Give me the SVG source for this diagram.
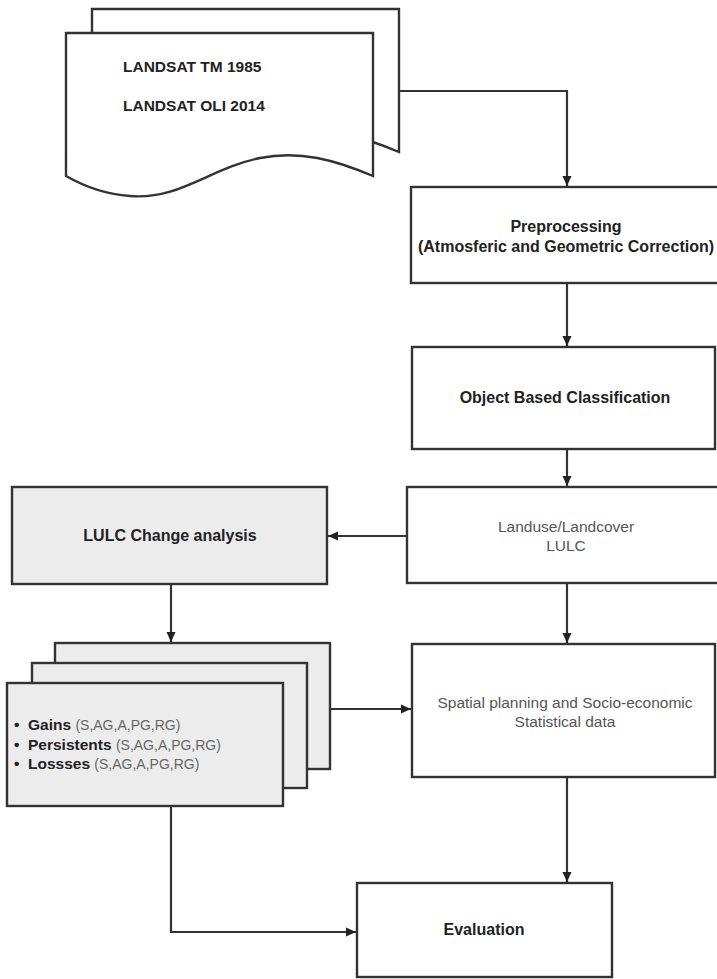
<svg xmlns="http://www.w3.org/2000/svg" width="717" height="979" viewBox="0 0 717 979">
<style>
.box{fill:#ffffff;stroke:#333333;stroke-width:2.4}
.gbox{fill:#ececec;stroke:#333333;stroke-width:2.4}
.con{fill:none;stroke:#333333;stroke-width:2.2}
.b{font-family:"Liberation Sans",Arial,sans-serif;font-weight:bold;font-size:16px;fill:#222222;text-anchor:middle}
.n{font-family:"Liberation Sans",Arial,sans-serif;font-size:15.5px;fill:#555555;text-anchor:middle}
.bl{font-family:"Liberation Sans",Arial,sans-serif;font-weight:bold;font-size:15.5px;fill:#222222}
.p{font-weight:normal;font-size:14px;fill:#666666}
</style>
<defs>
<marker id="ah" markerWidth="11" markerHeight="11" refX="10" refY="5.5" orient="auto" markerUnits="userSpaceOnUse">
<path d="M0,1 L10,5.5 L0,10 Z" fill="#222222"/>
</marker>
</defs>
<g id="connectors">
<path class="con" d="M399,91 H567 V186" marker-end="url(#ah)"/>
<path class="con" d="M567,283 V346" marker-end="url(#ah)"/>
<path class="con" d="M567,449 V486" marker-end="url(#ah)"/>
<path class="con" d="M407,536 H328" marker-end="url(#ah)"/>
<path class="con" d="M171,584 V642" marker-end="url(#ah)"/>
<path class="con" d="M567,583 V643" marker-end="url(#ah)"/>
<path class="con" d="M330,709 H411" marker-end="url(#ah)"/>
<path class="con" d="M567,777 V882" marker-end="url(#ah)"/>
<path class="con" d="M171,806 V932 H356" marker-end="url(#ah)"/>
</g>
<g id="landsat">
<path class="box" d="M92,9 H399 V152 C361,136 326,126 286,134 C236,144 206,176 156,172 C126,170 106,160 92,152 Z"/>
<path class="box" d="M66,33 H373 V176 C335,160 300,150 260,158 C210,168 180,200 130,196 C100,194 80,184 66,176 Z"/>
<text class="bl" x="123" y="72">LANDSAT TM 1985</text>
<text class="bl" x="123" y="111">LANDSAT OLI 2014</text>
</g>
<g id="preprocessing">
<rect class="box" x="411" y="187" width="312" height="96"/>
<text class="b" x="566" y="232">Preprocessing</text>
<text class="b" x="566" y="252">(Atmosferic and Geometric Correction)</text>
</g>
<g id="classification">
<rect class="box" x="412" y="347" width="303" height="102"/>
<text class="b" x="565" y="403">Object Based Classification</text>
</g>
<g id="lulc">
<rect class="box" x="407" y="487" width="316" height="96"/>
<text class="n" x="566" y="532">Landuse/Landcover</text>
<text class="n" x="566" y="551">LULC</text>
</g>
<g id="change">
<rect class="gbox" x="12" y="487" width="315" height="97"/>
<text class="b" x="170" y="541">LULC Change analysis</text>
</g>
<g id="results">
<rect class="gbox" x="55" y="643" width="275" height="126"/>
<rect class="gbox" x="32" y="663" width="275" height="125"/>
<rect class="gbox" x="7" y="683" width="276" height="123"/>
<text class="bl" x="14" y="730">• <tspan x="28">Gains</tspan> <tspan class="p">(S,AG,A,PG,RG)</tspan></text>
<text class="bl" x="14" y="750">• <tspan x="28">Persistents</tspan> <tspan class="p">(S,AG,A,PG,RG)</tspan></text>
<text class="bl" x="14" y="769">• <tspan x="28">Lossses</tspan> <tspan class="p">(S,AG,A,PG,RG)</tspan></text>
</g>
<g id="spatial">
<rect class="box" x="412" y="644" width="303" height="133"/>
<text class="n" x="565" y="708">Spatial planning and Socio-economic</text>
<text class="n" x="565" y="727">Statistical data</text>
</g>
<g id="evaluation">
<rect class="box" x="357" y="883" width="255" height="94"/>
<text class="b" x="484" y="935">Evaluation</text>
</g>
</svg>
